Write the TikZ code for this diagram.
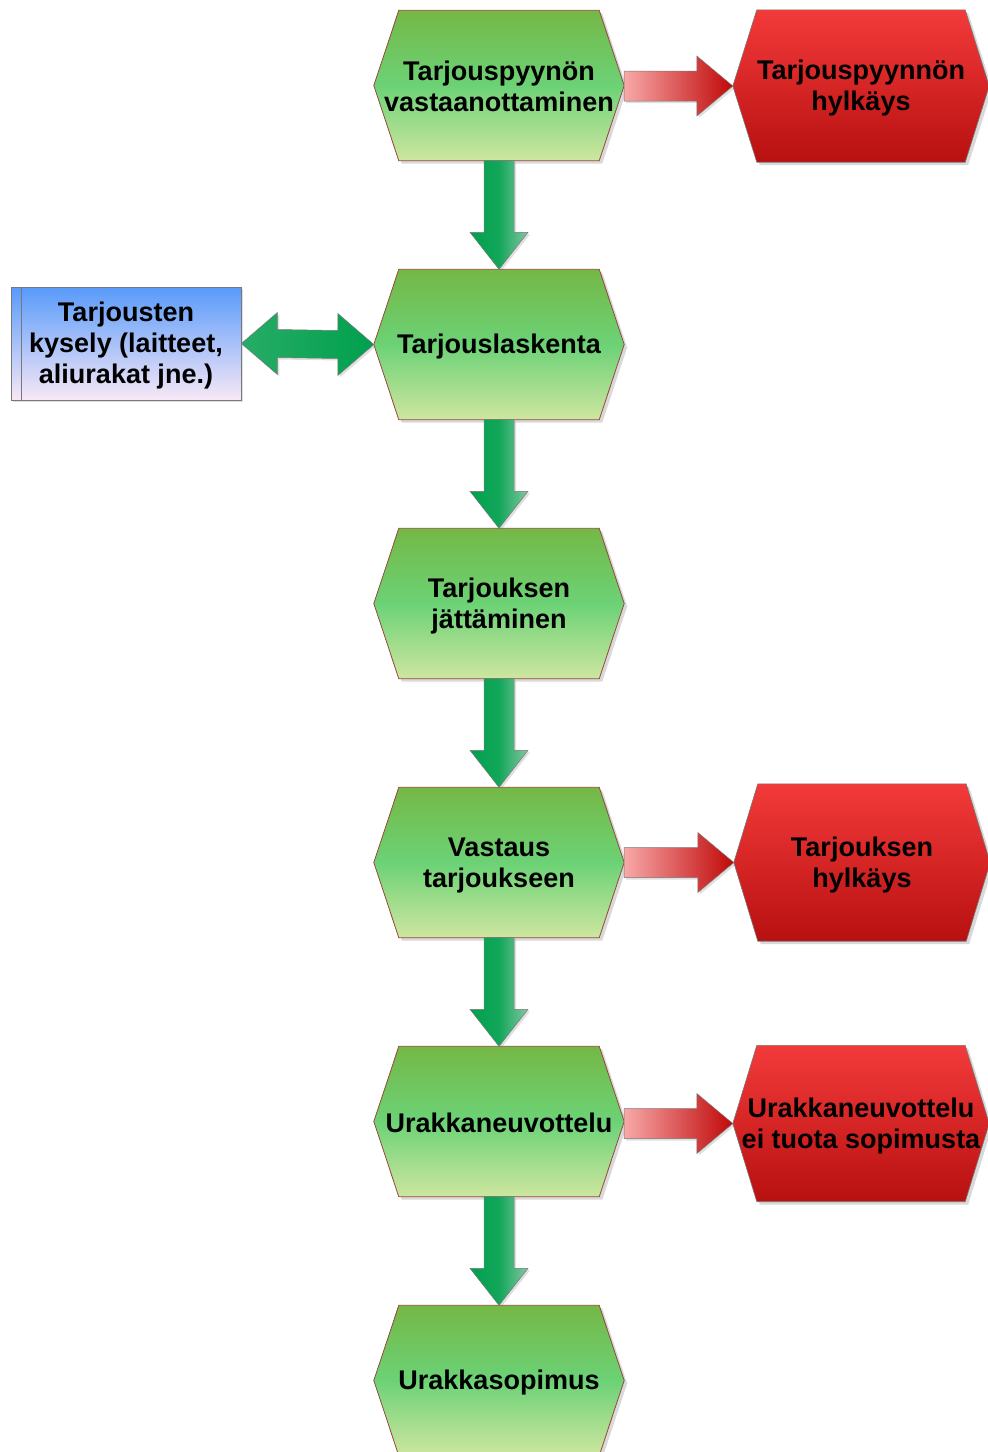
\documentclass[tikz,border=0pt]{standalone}
\usepackage{fontspec}
\setmainfont{Liberation Sans}
\usetikzlibrary{shadows,calc,backgrounds}
\definecolor{gtop}{RGB}{116,184,70}
\definecolor{gmid}{RGB}{108,210,118}
\definecolor{gbot}{RGB}{206,230,160}
\definecolor{rtop}{RGB}{243,58,58}
\definecolor{rbot}{RGB}{184,16,16}
\definecolor{hexline}{RGB}{150,72,60}
\definecolor{arrline}{RGB}{120,120,120}
\definecolor{adark}{RGB}{0,160,78}
\definecolor{alight}{RGB}{130,200,160}
\definecolor{pinkl}{RGB}{248,168,168}
\definecolor{reddk}{RGB}{192,8,8}
\definecolor{btop}{RGB}{88,154,250}
\definecolor{bbot}{RGB}{248,232,246}
\newcommand{\mystrut}{\rule[-3.3pt]{0pt}{27.7pt}}
\begin{document}
\begin{tikzpicture}[x=1pt,y=-1pt,
  txt/.style={font=\bfseries\fontsize{27}{31}\selectfont, text=black, align=center},
  slot/.style={txt, rectangle, inner sep=0pt},
  gslot/.style={slot, minimum width=250pt, minimum height=150pt},
  rslot/.style={slot, minimum width=256pt},
  shad/.style={drop shadow={shadow xshift=3pt, shadow yshift=-3pt, opacity=0.3}},
  greenfill/.style={shad, draw=hexline, line width=0.8pt, top color=gtop, bottom color=gbot, middle color=gmid},
  redfill/.style={shad, draw=arrline, line width=0.6pt, top color=rtop, bottom color=rbot},
  bluebox/.style={txt, rectangle, minimum width=230pt, minimum height=113pt, inner sep=0pt,
    draw=arrline, line width=0.8pt, top color=btop, bottom color=bbot,
    drop shadow={shadow xshift=2pt, shadow yshift=-2pt, opacity=0.25}},
  ashad/.style={drop shadow={shadow xshift=2pt, shadow yshift=-2pt, opacity=0.25}},
  downarrow/.style={ashad, draw=arrline, line width=0.5pt, left color=adark, right color=alight, middle color=adark!85!alight},
  rightarrow/.style={ashad, draw=arrline, line width=0.5pt, left color=pinkl, right color=reddk},
  dblarrow/.style={ashad, draw=arrline, line width=0.5pt, left color=adark!70!alight, right color=adark}
]
\useasboundingbox (0,0) rectangle (988,1452);
\clip (0,0) rectangle (988,1452);

% green process steps
\node[gslot] (g1) at (499,85.5) {\mystrut Tarjouspyynön\\\mystrut vastaanottaminen};
\node[gslot] (g2) at (499,344.5) {\mystrut Tarjouslaskenta};
\node[gslot] (g3) at (499,603.5) {\mystrut Tarjouksen\\\mystrut jättäminen};
\node[gslot] (g4) at (499,862.5) {\mystrut Vastaus\\\mystrut tarjoukseen};
\node[gslot] (g5) at (499,1121.5) {\mystrut Urakkaneuvottelu};
\node[gslot] (g6) at (499,1380.5) {\mystrut Urakkasopimus};

% red outcomes
\node[rslot, minimum height=152pt] (r1) at (861,86) {\mystrut Tarjouspyynnön\\\mystrut hylkäys};
\node[rslot, minimum height=157pt] (r2) at (862,862.5) {\mystrut Tarjouksen\\\mystrut hylkäys};
\node[rslot, minimum height=156pt] (r3) at (861,1123.5) {\mystrut Urakkaneuvottelu\\\mystrut ei tuota sopimusta};

% hexagon bodies behind the texts
\begin{pgfonlayer}{background}
\foreach \n in {g1,g2,g3,g4,g5,g6}{
  \path[greenfill] (\n.west) -- ($(\n.north west)+(25,0)$) -- ($(\n.north east)+(-25,0)$) --
    (\n.east) -- ($(\n.south east)+(-25,0)$) -- ($(\n.south west)+(25,0)$) -- cycle;
}
\foreach \n in {r1,r2,r3}{
  \path[redfill] (\n.west) -- ($(\n.north west)+(24,0)$) -- ($(\n.north east)+(-24,0)$) --
    (\n.east) -- ($(\n.south east)+(-24,0)$) -- ($(\n.south west)+(24,0)$) -- cycle;
}
\end{pgfonlayer}

% blue box
\node[bluebox] (b1) at (126,343.5) {\mystrut Tarjousten\\\mystrut kysely (laitteet,\\\mystrut aliurakat jne.)};
\draw[arrline, line width=0.8pt] ($(b1.north west)+(11,0)$) coordinate (bl1) -- ($(b1.south west)+(11,0)$) coordinate (bl2);

% green down arrows
\foreach \a/\b in {g1/g2, g2/g3, g3/g4, g4/g5, g5/g6}{
  \path[downarrow]
    ($(\a.south)+(-15,0)$) -- ($(\a.south)+(15,0)$) --
    ($(\b.north)+(15,-37)$) -- ($(\b.north)+(29,-37)$) --
    (\b.north) --
    ($(\b.north)+(-29,-37)$) -- ($(\b.north)+(-15,-37)$) -- cycle;
}

% red right arrows (horizontal, ending at the red hexagon's point)
\foreach \a/\b in {g1/r1, g4/r2, g5/r3}{
  \path[rightarrow]
    ($(\a.east |- \b.west)+(0,-15)$) -- ($(\b.west)+(-36,-15)$) --
    ($(\b.west)+(-36,-30)$) -- (\b.west) --
    ($(\b.west)+(-36,30)$) -- ($(\b.west)+(-36,15)$) --
    ($(\a.east |- \b.west)+(0,15)$) -- cycle;
}

% double arrow
\path[dblarrow]
  (b1.east) -- ($(b1.east)+(36,-31)$) -- ($(b1.east)+(36,-14)$) --
  ($(g2.west)+(-36,-14)$) -- ($(g2.west)+(-36,-31)$) -- (g2.west) --
  ($(g2.west)+(-36,31)$) -- ($(g2.west)+(-36,14)$) --
  ($(b1.east)+(36,14)$) -- ($(b1.east)+(36,31)$) -- cycle;
\end{tikzpicture}
\end{document}
